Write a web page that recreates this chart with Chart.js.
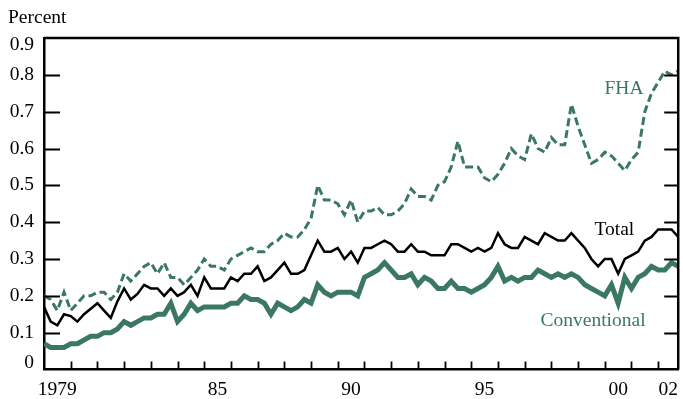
<!DOCTYPE html>
<html>
<head>
<meta charset="utf-8">
<script src="https://cdn.jsdelivr.net/npm/chart.js@4.4.1/dist/chart.umd.min.js"></script>
<style>
  html, body { margin: 0; padding: 0; background: #fff; }
  canvas { display: block; }
</style>
</head>
<body>
<canvas id="chart" width="683" height="399"></canvas>
<script>
const quarters = [
  "1979Q1","1979Q2","1979Q3","1979Q4","1980Q1","1980Q2","1980Q3","1980Q4",
  "1981Q1","1981Q2","1981Q3","1981Q4","1982Q1","1982Q2","1982Q3","1982Q4",
  "1983Q1","1983Q2","1983Q3","1983Q4","1984Q1","1984Q2","1984Q3","1984Q4",
  "1985Q1","1985Q2","1985Q3","1985Q4","1986Q1","1986Q2","1986Q3","1986Q4",
  "1987Q1","1987Q2","1987Q3","1987Q4","1988Q1","1988Q2","1988Q3","1988Q4",
  "1989Q1","1989Q2","1989Q3","1989Q4","1990Q1","1990Q2","1990Q3","1990Q4",
  "1991Q1","1991Q2","1991Q3","1991Q4","1992Q1","1992Q2","1992Q3","1992Q4",
  "1993Q1","1993Q2","1993Q3","1993Q4","1994Q1","1994Q2","1994Q3","1994Q4",
  "1995Q1","1995Q2","1995Q3","1995Q4","1996Q1","1996Q2","1996Q3","1996Q4",
  "1997Q1","1997Q2","1997Q3","1997Q4","1998Q1","1998Q2","1998Q3","1998Q4",
  "1999Q1","1999Q2","1999Q3","1999Q4","2000Q1","2000Q2","2000Q3","2000Q4",
  "2001Q1","2001Q2","2001Q3","2001Q4","2002Q1","2002Q2","2002Q3","2002Q4"
];

const fha = [
  0.20, 0.19, 0.16, 0.21,  0.16, 0.18, 0.20, 0.20,  0.21, 0.21, 0.19, 0.21,
  0.26, 0.24, 0.26, 0.28,  0.29, 0.26, 0.29, 0.25,  0.25, 0.23, 0.25, 0.27,
  0.30, 0.28, 0.28, 0.27,  0.30, 0.31, 0.32, 0.33,  0.32, 0.32, 0.34, 0.35,
  0.37, 0.36, 0.36, 0.38,  0.41, 0.50, 0.46, 0.46,  0.45, 0.42, 0.46, 0.40,
  0.43, 0.43, 0.44, 0.42,  0.42, 0.43, 0.45, 0.49,  0.47, 0.47, 0.46, 0.50,
  0.51, 0.55, 0.62, 0.55,  0.55, 0.55, 0.52, 0.51,  0.53, 0.56, 0.60, 0.58,
  0.57, 0.64, 0.60, 0.59,  0.63, 0.61, 0.61, 0.72,  0.66, 0.61, 0.56, 0.57,
  0.59, 0.58, 0.56, 0.54,  0.57, 0.59, 0.70, 0.75,  0.78, 0.81, 0.80, 0.81
];

const total = [
  0.17, 0.13, 0.12, 0.15,  0.145, 0.13, 0.15, 0.165,  0.18, 0.16, 0.14, 0.185,
  0.22, 0.19, 0.205, 0.23,  0.22, 0.22, 0.20, 0.22,  0.20, 0.21, 0.23, 0.20,
  0.25, 0.22, 0.22, 0.22,  0.25, 0.24, 0.26, 0.26,  0.28, 0.24, 0.25, 0.27,
  0.29, 0.26, 0.26, 0.27,  0.31, 0.35, 0.32, 0.32,  0.33, 0.30, 0.32, 0.29,
  0.33, 0.33, 0.34, 0.35,  0.34, 0.32, 0.32, 0.34,  0.32, 0.32, 0.31, 0.31,
  0.31, 0.34, 0.34, 0.33,  0.32, 0.33, 0.32, 0.33,  0.37, 0.34, 0.33, 0.33,
  0.36, 0.35, 0.34, 0.37,  0.36, 0.35, 0.35, 0.37,  0.35, 0.33, 0.30, 0.28,
  0.30, 0.30, 0.26, 0.30,  0.31, 0.32, 0.35, 0.36,  0.38, 0.38, 0.38, 0.36
];

const conventional = [
  0.07, 0.06, 0.06, 0.06,  0.07, 0.07, 0.08, 0.09,  0.09, 0.10, 0.10, 0.11,
  0.13, 0.12, 0.13, 0.14,  0.14, 0.15, 0.15, 0.18,  0.13, 0.15, 0.18, 0.16,
  0.17, 0.17, 0.17, 0.17,  0.18, 0.18, 0.20, 0.19,  0.19, 0.18, 0.15, 0.18,
  0.17, 0.16, 0.17, 0.19,  0.18, 0.23, 0.21, 0.20,  0.21, 0.21, 0.21, 0.20,
  0.25, 0.26, 0.27, 0.29,  0.27, 0.25, 0.25, 0.26,  0.23, 0.25, 0.24, 0.22,
  0.22, 0.24, 0.22, 0.22,  0.21, 0.22, 0.23, 0.25,  0.28, 0.24, 0.25, 0.24,
  0.25, 0.25, 0.27, 0.26,  0.25, 0.26, 0.25, 0.26,  0.25, 0.23, 0.22, 0.21,
  0.20, 0.23, 0.18, 0.25,  0.22, 0.25, 0.26, 0.28,  0.27, 0.27, 0.29, 0.28
];

const yearTickYears = [1979, 1985, 1990, 1995, 2000, 2002];
const yearTickLabels = ["1979", "85", "90", "95", "00", "02"];

const GREEN = "#3b7864";
const FONT = "Liberation Serif";
const X_MIN = 1979;
const X_MAX = 2002.75;
const Y_MIN = 0;
const Y_MAX = 0.9;

// quarter "1979Q1" -> 1979.0, "1979Q2" -> 1979.25 ...
const toYear = (q) => Number(q.slice(0, 4)) + (Number(q.slice(5)) - 1) / 4;
const series = (values) => quarters.map((q, i) => ({ x: toYear(q), y: values[i] }));

// series names written next to the lines, placed in data units
const seriesLabels = [
  { text: "FHA", x: 2000.72, y: 0.763, color: GREEN },
  { text: "Total", x: 2000.36, y: 0.378, color: "#000" },
  { text: "Conventional", x: 1999.56, y: 0.132, color: GREEN }
];

// end labels sit a little inside the frame, like the original
function yLabel(v) {
  const s = v === 0 ? "0" : v.toFixed(1);
  if (Math.abs(v - Y_MAX) < 1e-6) return ["", s];
  if (Math.abs(v - Y_MIN) < 1e-6) return [s, ""];
  return s;
}

const framePlugin = {
  id: "frame",
  afterDraw(chart) {
    const { ctx, chartArea: a, scales } = chart;
    const xs = scales.x;
    const ys = scales.y;
    ctx.save();
    ctx.strokeStyle = "#000";
    ctx.lineWidth = 2.5;
    ctx.beginPath();
    ctx.moveTo(a.left, a.top);
    ctx.lineTo(a.right, a.top);
    ctx.lineTo(a.right, a.bottom);
    ctx.stroke();

    // inward tick marks
    ctx.lineWidth = 1.8;
    ctx.beginPath();
    for (let i = 1; i <= 8; i++) {
      const y = Math.round(ys.getPixelForValue(i / 10)) + 0.5;
      ctx.moveTo(a.left, y);
      ctx.lineTo(a.left + 16, y);
      ctx.moveTo(a.right, y);
      ctx.lineTo(a.right - 14, y);
    }
    for (let yr = 1980; yr <= 2002; yr++) {
      const x = Math.round(xs.getPixelForValue(yr)) + 0.5;
      ctx.moveTo(x, a.bottom);
      ctx.lineTo(x, a.bottom - 8);
    }
    ctx.stroke();

    ctx.font = `19.5px "${FONT}"`;
    ctx.textBaseline = "middle";
    ctx.textAlign = "left";
    ctx.fillStyle = "#000";
    ctx.fillText("Percent", 8, a.top - 20);

    ctx.textAlign = "center";
    seriesLabels.forEach((l) => {
      ctx.fillStyle = l.color;
      ctx.fillText(l.text, xs.getPixelForValue(l.x), ys.getPixelForValue(l.y));
    });
    ctx.restore();
  }
};

new Chart(document.getElementById("chart"), {
  type: "line",
  data: {
    datasets: [
      {
        label: "Conventional",
        data: series(conventional),
        borderColor: GREEN,
        borderWidth: 5,
        pointRadius: 0,
        tension: 0
      },
      {
        label: "Total",
        data: series(total),
        borderColor: "#000",
        borderWidth: 2.5,
        pointRadius: 0,
        tension: 0
      },
      {
        label: "FHA",
        data: series(fha),
        borderColor: GREEN,
        borderWidth: 3,
        borderDash: [8, 4],
        pointRadius: 0,
        tension: 0
      }
    ]
  },
  options: {
    responsive: false,
    animation: false,
    devicePixelRatio: 1,
    parsing: false,
    layout: { padding: { top: 38, right: 3, left: 0, bottom: 0 } },
    plugins: {
      legend: { display: false },
      tooltip: { enabled: false }
    },
    scales: {
      x: {
        type: "linear",
        min: X_MIN,
        max: X_MAX,
        afterBuildTicks(s) {
          s.ticks = yearTickYears.map((y) => ({ value: (y + Math.min(y + 1, X_MAX)) / 2 }));
        },
        afterFit(s) { s.height = 29.5; },
        ticks: {
          autoSkip: false,
          maxRotation: 0,
          padding: 5,
          color: "#000",
          font: { family: FONT, size: 19.5, lineHeight: 1.61 },
          callback: (v, i) => yearTickLabels[i]
        },
        grid: { display: false, drawTicks: false },
        border: { display: true, color: "#000", width: 2.5 }
      },
      y: {
        min: Y_MIN,
        max: Y_MAX,
        afterFit(s) { s.width = 44; },
        ticks: {
          stepSize: 0.1,
          padding: 10,
          color: "#000",
          font: { family: FONT, size: 19.5, lineHeight: 0.68 },
          callback: yLabel
        },
        grid: { display: false, drawTicks: false },
        border: { display: true, color: "#000", width: 2.5 }
      }
    }
  },
  plugins: [framePlugin]
});
</script>
</body>
</html>
